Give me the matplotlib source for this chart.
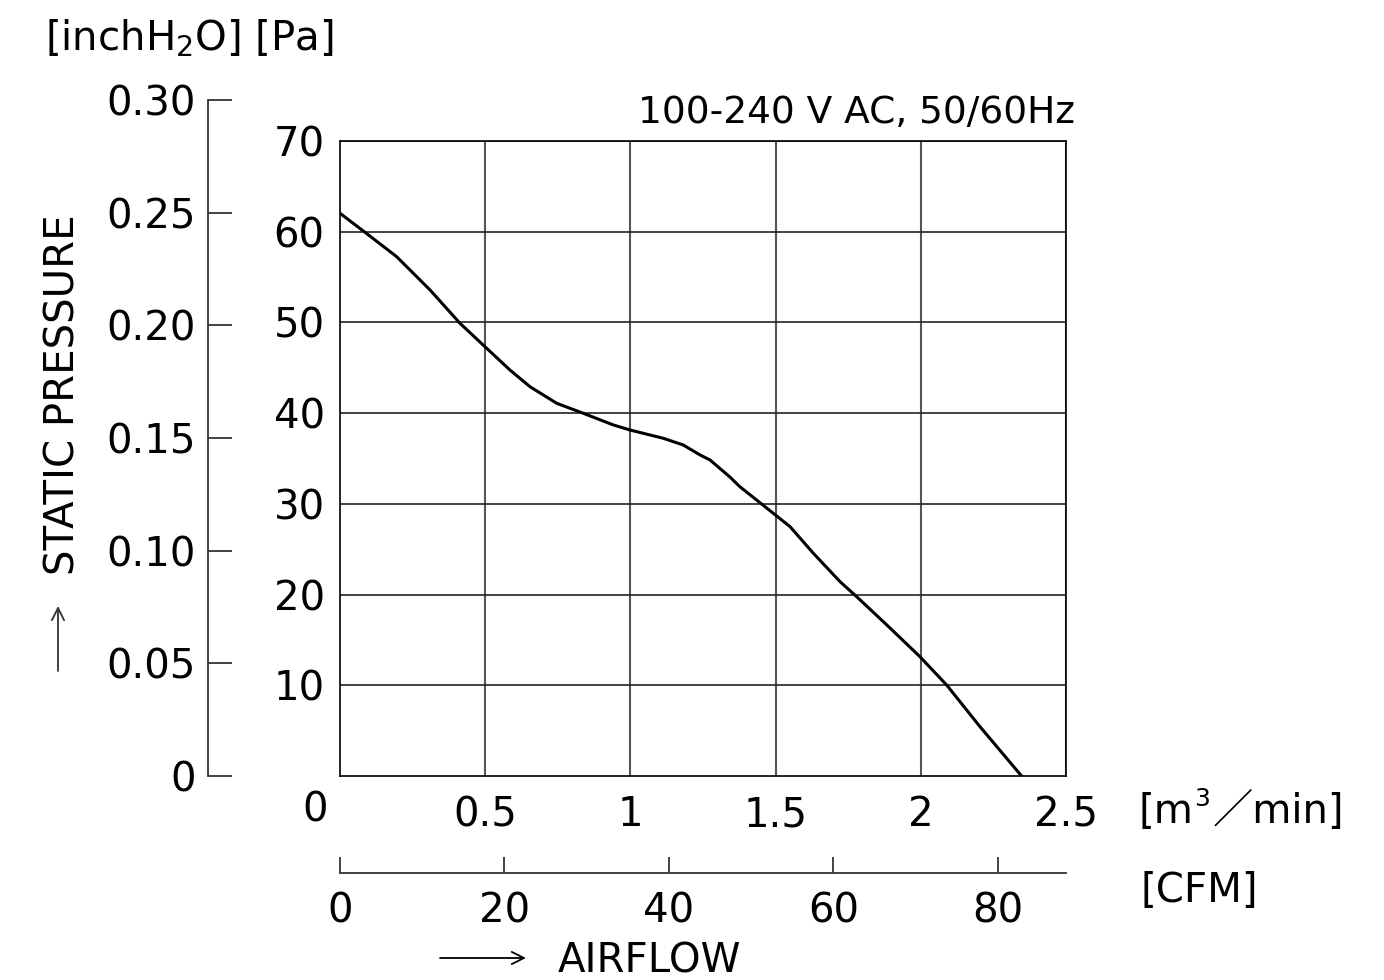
import numpy as np
import matplotlib.pyplot as plt
from matplotlib.patches import FancyArrowPatch

# P-Q curve
airflow = [0.000, 0.086, 0.195, 0.310, 0.413, 0.499, 0.585, 0.654, 0.746, 0.838,
           0.941, 0.999, 1.113, 1.182, 1.240, 1.274, 1.343, 1.377, 1.492, 1.550,
           1.630, 1.722, 1.779, 1.883, 1.997, 2.089, 2.204, 2.347]
pressure = [62.03, 59.94, 57.25, 53.58, 49.91, 47.33, 44.76, 42.92, 41.09, 39.98,
            38.70, 38.14, 37.23, 36.49, 35.39, 34.84, 32.95, 31.89, 28.96, 27.48,
            24.55, 21.42, 19.77, 16.65, 13.15, 10.03, 5.43, 0.0]

m3_ticks = [0.5, 1, 1.5, 2, 2.5]
m3_labels = ['0.5', '1', '1.5', '2', '2.5']
pa_ticks = [10, 20, 30, 40, 50, 60, 70]
inch_ticks = [0, 0.05, 0.10, 0.15, 0.20, 0.25, 0.30]
inch_labels = ['0', '0.05', '0.10', '0.15', '0.20', '0.25', '0.30']
cfm_ticks = [0, 20, 40, 60, 80]

M3_TO_CFM = 35.3147

W, H = 1384, 980
fs = 29

fig = plt.figure(figsize=(W / 100, H / 100), dpi=100)

def box(x0, y0, x1, y1):
    # pixel box (top-left origin) -> figure fraction rect
    return [x0 / W, 1 - y1 / H, (x1 - x0) / W, (y1 - y0) / H]

def ftext(x, y, s, **kw):
    # text placed by pixel position (top-left origin)
    return fig.text(x / W, 1 - y / H, s, **kw)

# main chart
ax = fig.add_axes(box(340, 141, 1066, 776))
ax.plot(airflow, pressure, color='black', lw=2.2, solid_joinstyle='round', zorder=3)
ax.set_xlim(0, 2.5)
ax.set_ylim(0, 70)
ax.set_xticks(m3_ticks)
ax.set_xticklabels(m3_labels)
ax.set_yticks(pa_ticks)
ax.grid(True, color='#222222', lw=1.2)
ax.xaxis.grid(True, color='#555555', lw=1.5)
ax.tick_params(axis='both', length=0, labelsize=fs)
ax.tick_params(axis='y', pad=11)
ax.tick_params(axis='x', pad=14)
for s in ax.spines.values():
    s.set_linewidth(1.2)
ax.text(-0.085, -1.6, '0', fontsize=fs, ha='center', va='top')

# inchH2O scale on the far left
ax_in = fig.add_axes(box(208, 100, 232, 776))
ax_in.set_ylim(0, 0.30)
ax_in.set_yticks(inch_ticks)
ax_in.set_yticklabels(inch_labels)
ax_in.set_xticks([])
for k in ['top', 'right', 'bottom']:
    ax_in.spines[k].set_visible(False)
ax_in.spines['left'].set_linewidth(1.3)
ax_in.spines['left'].set_color('#333333')
ax_in.patch.set_alpha(0)
ax_in.tick_params(axis='y', direction='in', length=17, width=1.3, color='#333333',
                  labelsize=fs, pad=9)

# CFM scale below
ax_cfm = fig.add_axes(box(340, 850, 1066, 873))
ax_cfm.set_xlim(0, 2.5 * M3_TO_CFM)
ax_cfm.set_xticks(cfm_ticks)
ax_cfm.set_yticks([])
for k in ['top', 'right', 'left']:
    ax_cfm.spines[k].set_visible(False)
ax_cfm.spines['bottom'].set_linewidth(1.3)
ax_cfm.spines['bottom'].set_color('#333333')
ax_cfm.patch.set_alpha(0)
ax_cfm.tick_params(axis='x', direction='in', length=11.5, width=1.3, color='#333333',
                   labelsize=fs, pad=13)

# labels
ftext(1075, 123, '100-240 V AC, 50/60Hz', fontsize=27, ha='right', va='baseline')
ftext(45, 50, '[inchH$_2$O] [Pa]', fontsize=fs, ha='left', va='baseline')
ftext(1138, 823, '[m', fontsize=fs, ha='left', va='baseline')
ftext(1194, 806, '3', fontsize=18, ha='left', va='baseline')
ftext(1213, 823, '／min]', fontsize=fs, ha='left', va='baseline',
      family=['DejaVu Sans', 'Noto Sans CJK JP'])
ftext(1140, 902, '[CFM]', fontsize=fs, ha='left', va='baseline')
ftext(84, 395, 'STATIC PRESSURE', fontsize=fs, rotation=90, ha='right', va='center')
ftext(558, 972, 'AIRFLOW', fontsize=fs, ha='left', va='baseline')

for start, end, col in [((58, 671), (58, 606), '#333333'), ((440, 958), (526, 958), 'black')]:
    fig.add_artist(FancyArrowPatch((start[0] / W, 1 - start[1] / H), (end[0] / W, 1 - end[1] / H),
                                   transform=fig.transFigure, arrowstyle='->',
                                   mutation_scale=22, lw=1.3, color=col,
                                   shrinkA=0, shrinkB=0))

fig.savefig('out.png', dpi=100)
